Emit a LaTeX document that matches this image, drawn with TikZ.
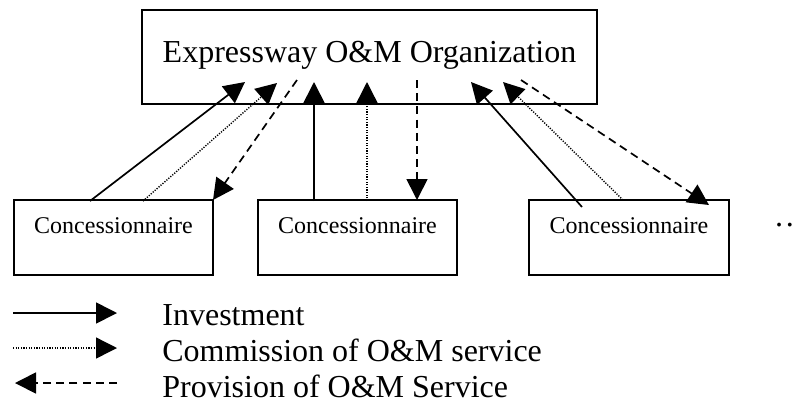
\documentclass[tikz,border=0pt]{standalone}
\usepackage{fontspec}
\setmainfont{Liberation Serif}
\usetikzlibrary{arrows.meta}
\tikzset{
  box/.style={draw, line width=0.9pt, inner sep=0pt},
  bigtext/.style={font=\fontsize{16pt}{18pt}\selectfont, inner sep=0pt},
  smalltext/.style={font=\fontsize{12pt}{14pt}\selectfont, inner sep=0pt},
  flow/.style={line width=0.85pt, -{Triangle[length=10.5pt,width=10.5pt]}},
  invest/.style={flow},
  commission/.style={flow, line width=0.7pt, dash pattern=on 0.6pt off 0.7pt},
  provision/.style={flow, dash pattern=on 4pt off 2.6pt},
}
\begin{document}
\begin{tikzpicture}[x=0.5pt, y=-0.5pt]
\useasboundingbox (0,0) rectangle (797,403);
\clip (0,0) rectangle (797,403);

% organisation box
\node[box, minimum width=227.5pt, minimum height=47pt] (org) at (369.5,57) {};
\node[bigtext, anchor=base] (orgtxt) at (369.5,62) {Expressway O\&M Organization};

% concessionaire boxes
\node[box, minimum width=99.5pt, minimum height=37.5pt] (c1) at (113.5,237.5) {};
\node[box, minimum width=99.5pt, minimum height=37.5pt] (c2) at (357.5,237.5) {};
\node[box, minimum width=100pt, minimum height=37.5pt] (c3) at (629,237.5) {};
\node[smalltext, anchor=base] (c1t) at (113.5,233) {Concessionnaire};
\node[smalltext, anchor=base] (c2t) at (357.5,233) {Concessionnaire};
\node[smalltext, anchor=base] (c3t) at (629,233) {Concessionnaire};
\node[bigtext, anchor=base west] (more) at (773.5,226) {…};

% end points of the flows
\coordinate (c1i) at (90,201);   \coordinate (o1i) at (245,82);
\coordinate (c1c) at (143,201);  \coordinate (o1c) at (277,83);
\coordinate (o1p) at (297,80);   \coordinate (c1p) at (213,200);
\coordinate (c2i) at (314,201);  \coordinate (o2i) at (314,82);
\coordinate (c2c) at (367,201);  \coordinate (o2c) at (367,82);
\coordinate (o2p) at (417,80);   \coordinate (c2p) at (417,200);
\coordinate (c3i) at (582,207);  \coordinate (o3i) at (471,82);
\coordinate (c3c) at (623,200);  \coordinate (o3c) at (503,82);
\coordinate (o3p) at (521,80);   \coordinate (c3p) at (709,205);

\draw[invest] (c1i) -- (o1i);
\draw[commission] (c1c) -- (o1c);
\draw[provision] (o1p) -- (c1p);
\draw[invest] (c2i) -- (o2i);
\draw[commission] (c2c) -- (o2c);
\draw[provision] (o2p) -- (c2p);
\draw[invest] (c3i) -- (o3i);
\draw[commission] (c3c) -- (o3c);
\draw[provision] (o3p) -- (c3p);

% legend
\coordinate (l1a) at (13,313);  \coordinate (l1b) at (117,313);
\coordinate (l2a) at (13,348);  \coordinate (l2b) at (117,348);
\coordinate (l3a) at (117,383); \coordinate (l3b) at (15,383);
\draw[invest] (l1a) -- (l1b);
\draw[commission] (l2a) -- (l2b);
\draw[provision] (l3a) -- (l3b);
\node[bigtext, anchor=base west] (lg1) at (162,325) {Investment};
\node[bigtext, anchor=base west] (lg2) at (162,361) {Commission of O\&M service};
\node[bigtext, anchor=base west] (lg3) at (162,397) {Provision of O\&M Service};
\end{tikzpicture}
\end{document}
